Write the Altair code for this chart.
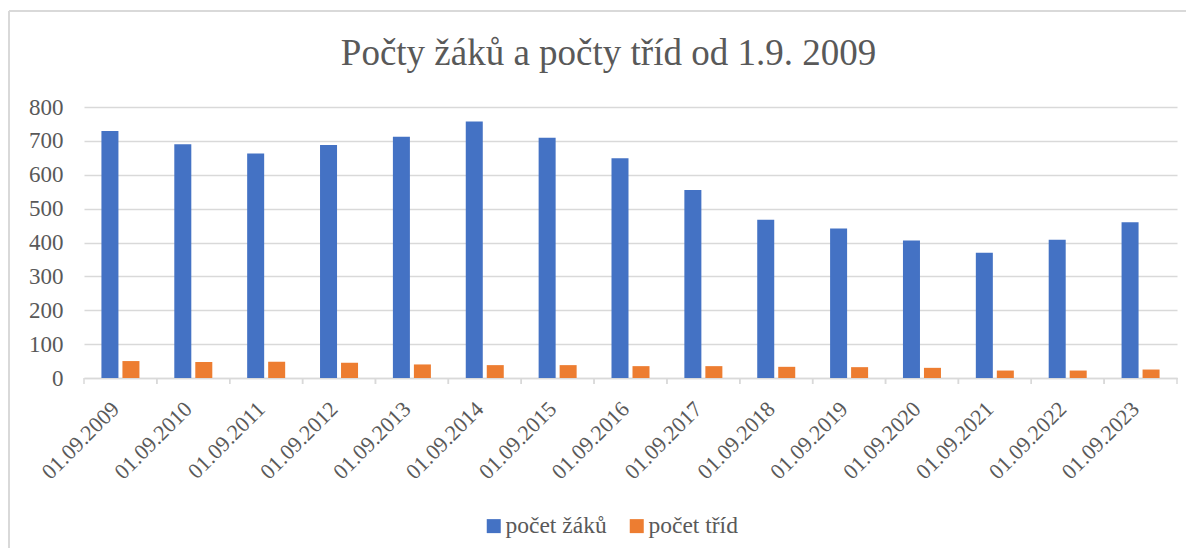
import altair as alt
import pandas as pd

dates = ["01.09.2009", "01.09.2010", "01.09.2011", "01.09.2012", "01.09.2013",
         "01.09.2014", "01.09.2015", "01.09.2016", "01.09.2017", "01.09.2018",
         "01.09.2019", "01.09.2020", "01.09.2021", "01.09.2022", "01.09.2023"]
zaci = [729, 690, 663, 688, 712, 757, 709, 649, 555, 467, 441, 406, 370, 408, 460]
tridy = [50, 47, 48, 45, 40, 38, 38, 35, 35, 33, 32, 30, 22, 22, 25]
series = ["počet žáků", "počet tříd"]
colors = ["#4472C4", "#ED7D31"]
y_ticks = [0, 100, 200, 300, 400, 500, 600, 700, 800]
title_text = "Počty žáků a počty tříd od 1.9. 2009"

df = pd.DataFrame({
    "datum": dates * 2,
    "serie": [series[0]] * len(dates) + [series[1]] * len(dates),
    "hodnota": zaci + tridy,
})
cats = pd.DataFrame({"datum": dates})

W, H = 1093, 271
FONT = "Liberation Serif"
TXT = "#595959"
GRID = "#d9d9d9"

x_scale = alt.Scale(domain=dates, paddingInner=0, paddingOuter=0)

bars = alt.Chart(df).mark_bar().encode(
    x=alt.X("datum:N", scale=x_scale, sort=dates,
            axis=alt.Axis(title=None, labelAngle=-45, labelAlign="right", labelBaseline="top",
                          labelPadding=20, labelOffset=-12, ticks=False, domainColor=GRID,
                          domainWidth=1.5, labelOverlap=False, labelBound=False, grid=False,
                          labelFont=FONT, labelFontSize=22, labelColor=TXT)),
    xOffset=alt.XOffset("serie:N", sort=series,
                        scale=alt.Scale(domain=series, paddingInner=0.19, paddingOuter=0.83)),
    y=alt.Y("hodnota:Q", scale=alt.Scale(domain=[0, 800], nice=False),
            axis=alt.Axis(title=None, values=y_ticks, labelPadding=21, ticks=False,
                          domain=False, grid=True, gridColor=GRID, gridWidth=1.3,
                          labelFont=FONT, labelFontSize=23, labelColor=TXT)),
    color=alt.Color("serie:N", sort=series,
                    scale=alt.Scale(domain=series, range=colors),
                    legend=alt.Legend(title=None, orient="none", direction="horizontal",
                                      legendX=398, legendY=407, symbolType="square",
                                      symbolSize=196, symbolStrokeWidth=0, labelOffset=0,
                                      columnPadding=18, padding=0,
                                      labelFont=FONT, labelFontSize=23.5,
                                      labelColor=TXT)),
)

tick_l = alt.Chart(cats).mark_rule(color=GRID, strokeWidth=1.5).encode(
    x=alt.X("datum:N", sort=dates, bandPosition=0),
    y=alt.value(H), y2=alt.value(H + 6),
)
tick_r = alt.Chart(cats).mark_rule(color=GRID, strokeWidth=1.5).encode(
    x=alt.X("datum:N", sort=dates, bandPosition=1),
    y=alt.value(H), y2=alt.value(H + 6),
)

frame_top = alt.Chart(cats).mark_rule(color=GRID, strokeWidth=1.5).encode(
    x=alt.value(-75), x2=alt.value(W + 40), y=alt.value(-96)
)
frame_left = alt.Chart(cats).mark_rule(color=GRID, strokeWidth=1.5).encode(
    x=alt.value(-75), y=alt.value(-96), y2=alt.value(H + 200)
)

chart = alt.layer(bars, tick_l, tick_r, frame_top, frame_left).properties(
    width=W, height=H,
    title=alt.TitleParams(title_text, fontSize=37, color=TXT, font=FONT,
                          fontWeight="normal", anchor="middle", dx=-22, dy=120,
                          offset=28, baseline="alphabetic"),
    autosize=alt.AutoSizeParams(type="none"),
    padding={"left": 76, "top": 99, "right": 9, "bottom": 170},
).configure(
    background="white", font=FONT, style={"guide-label": {"font": FONT}}
).configure_view(
    stroke=None
)

chart.save("out.html", embed_options={"renderer": "svg", "actions": False})
